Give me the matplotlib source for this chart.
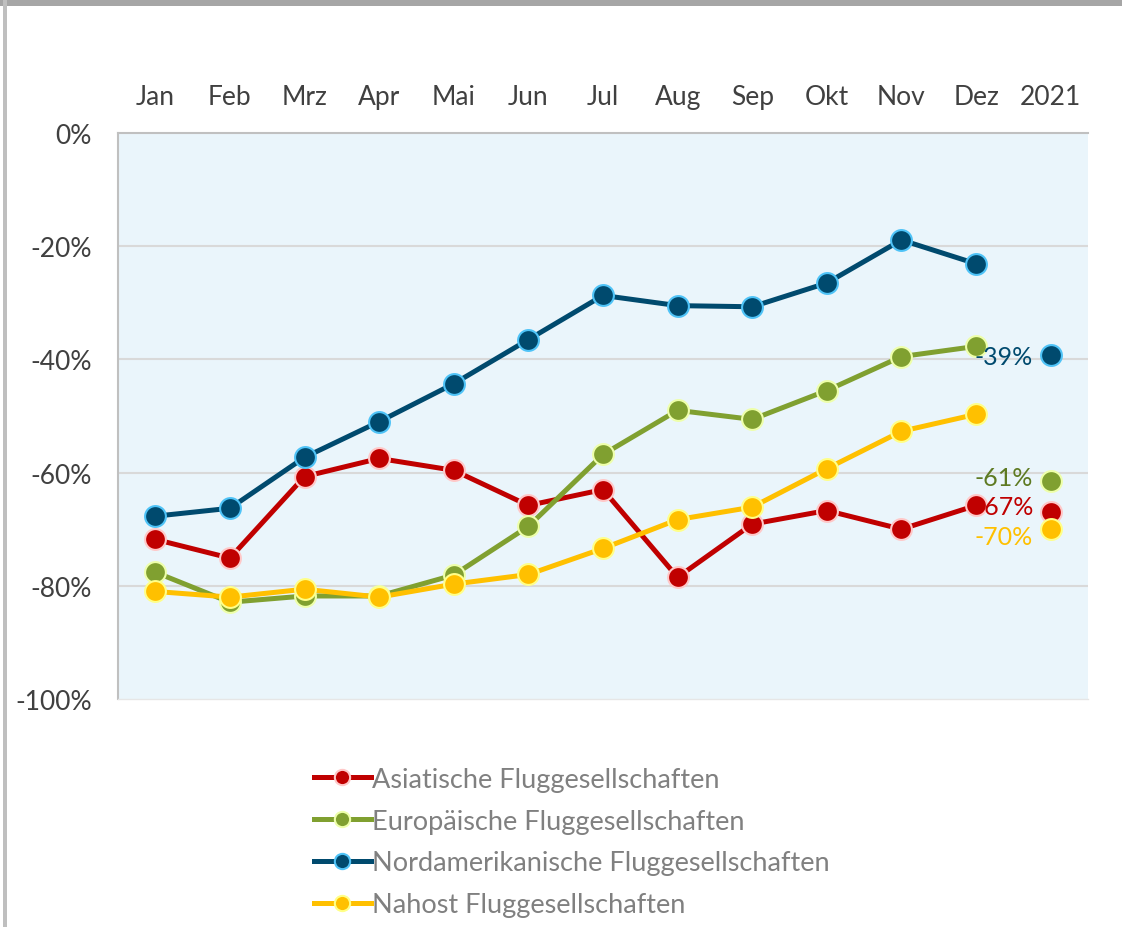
import matplotlib
matplotlib.use("Agg")
import matplotlib.pyplot as plt
from matplotlib.patches import Rectangle
from matplotlib.lines import Line2D

plt.rcParams['font.family'] = ['Lato', 'DejaVu Sans']

categories = ["Jan", "Feb", "Mrz", "Apr", "Mai", "Jun", "Jul", "Aug", "Sep", "Okt", "Nov", "Dez", "2021"]

asia = [-71.8, -75.1, -60.7, -57.5, -59.6, -65.8, -63.0, -78.5, -69.1, -66.7, -70.0, -65.8]
europe = [-77.6, -82.9, -81.8, -81.8, -78.1, -69.5, -56.8, -49.0, -50.6, -45.5, -39.5, -37.7]
namerica = [-67.7, -66.3, -57.3, -51.0, -44.3, -36.5, -28.7, -30.5, -30.7, -26.5, -18.9, -23.1]
mideast = [-81.0, -82.0, -80.6, -82.0, -79.7, -78.0, -73.4, -68.3, -66.1, -59.3, -52.7, -49.7]

year_2021 = {"asia": -67.0, "europe": -61.4, "namerica": -39.3, "mideast": -70.0}
year_labels = {"asia": "-67%", "europe": "-61%", "namerica": "-39%", "mideast": "-70%"}

names = {
    "asia": "Asiatische Fluggesellschaften",
    "europe": "Europäische Fluggesellschaften",
    "namerica": "Nordamerikanische Fluggesellschaften",
    "mideast": "Nahost Fluggesellschaften",
}
series = {"asia": asia, "europe": europe, "namerica": namerica, "mideast": mideast}

colors = {"asia": "#C00000", "europe": "#80A030", "namerica": "#004A6E", "mideast": "#FFC000"}
edges = {"asia": "#FFC8C8", "europe": "#EEFFAA", "namerica": "#4FC3F7", "mideast": "#FFFF88"}
label_colors = {"asia": "#C00000", "europe": "#5E7A22", "namerica": "#004A6E", "mideast": "#FFC000"}
# label offsets in points (dx, dy)
label_off = {"namerica": (-13, -1), "europe": (-13, 2), "asia": (-12, 4), "mideast": (-13, -5)}

fig = plt.figure(figsize=(11.22, 9.28), dpi=100)
fig.patch.set_facecolor("white")

# frame borders
fig.patches.append(Rectangle((0, 1 - 7/928), 1, 7/928, transform=fig.transFigure,
                             facecolor="#A6A6A6", edgecolor="none", zorder=0))
fig.patches.append(Rectangle((3/1122, 0), 4/1122, 1, transform=fig.transFigure,
                             facecolor="#BFBFBF", edgecolor="none", zorder=0))

ax = fig.add_axes([118/1122, 228/928, 970/1122, 566/928])
ax.set_facecolor("#EAF5FB")

x_idx = list(range(len(categories)))
month_x = x_idx[:12]

for key in ["asia", "europe", "namerica", "mideast"]:
    ax.plot(month_x, series[key], color=colors[key], lw=3.6, marker="o", ms=15,
            mfc=colors[key], mec=edges[key], mew=1.5, zorder=3, solid_capstyle="round")
    ax.plot([x_idx[12]], [year_2021[key]], linestyle="none", marker="o", ms=15,
            mfc=colors[key], mec=edges[key], mew=1.5, zorder=3)
    dx, dy = label_off[key]
    ax.annotate(year_labels[key], (x_idx[12], year_2021[key]), xytext=(dx, dy),
                textcoords="offset points", ha="right", va="center",
                color=label_colors[key], fontsize=18, zorder=4)

ax.set_xlim(-0.5, len(categories) - 0.5)
ax.set_ylim(-100, 0)
ax.set_yticks([0, -20, -40, -60, -80, -100])
ax.set_yticklabels(["0%", "-20%", "-40%", "-60%", "-80%", "-100%"])
ax.set_xticks(x_idx)
ax.set_xticklabels(categories)
ax.xaxis.tick_top()
ax.tick_params(axis="x", length=0, pad=17, labelsize=19, labelcolor="#404040")
ax.tick_params(axis="y", length=0, pad=19, labelsize=19, labelcolor="#404040")

for yv in [-20, -40, -60, -80]:
    ax.axhline(yv, color="#D9D9D9", lw=1.5, zorder=1)

for side in ["left", "top"]:
    ax.spines[side].set_color("#C0C0C0")
    ax.spines[side].set_linewidth(1.5)
for side in ["right", "bottom"]:
    ax.spines[side].set_color("#E6E6E6")
    ax.spines[side].set_linewidth(1.0)
ax.spines["right"].set_visible(False)

handles = [Line2D([0], [0], color=colors[k], lw=3.6, marker="o", ms=11,
                  mfc=colors[k], mec=edges[k], mew=1.5) for k in ["asia", "europe", "namerica", "mideast"]]
leg = fig.legend(handles, [names[k] for k in ["asia", "europe", "namerica", "mideast"]],
                 loc="upper left", bbox_to_anchor=(303/1122, 1 - 757/928), frameon=False,
                 fontsize=19.5, handlelength=2.1, handletextpad=0.05, labelspacing=0.62,
                 borderaxespad=0)
for t in leg.get_texts():
    t.set_color("#808080")

fig.savefig("out.png", dpi=100, facecolor="white")
